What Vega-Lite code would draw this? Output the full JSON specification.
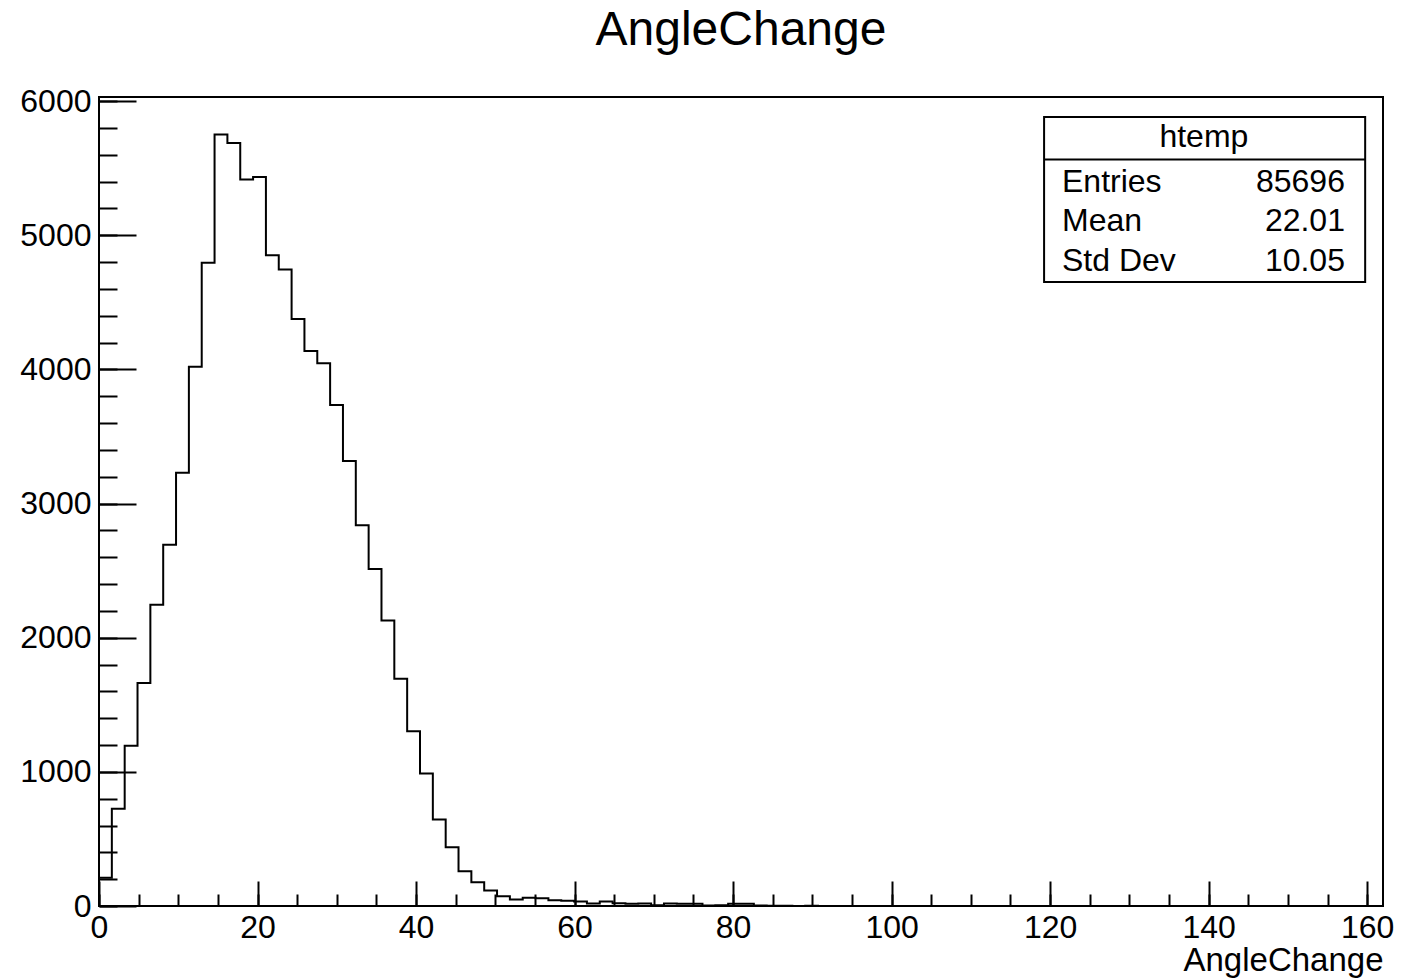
{
  "$schema": "https://vega.github.io/schema/vega-lite/v6.json",
  "width": 1284,
  "height": 809,
  "autosize": {"type": "none"},
  "padding": {"left": 99, "top": 97, "right": 18, "bottom": 74},
  "background": "white",
  "config": {"view": {"stroke": "black", "strokeWidth": 2}, "font": "Liberation Sans"},
  "title": {"text": "AngleChange", "fontSize": 48, "fontWeight": "normal", "font": "Liberation Sans", "anchor": "middle", "offset": 30, "color": "black"},
  "datasets": {
    "hist": [
      {"edge": 0, "count": 210}, {"edge": 1.62, "count": 724}, {"edge": 3.24, "count": 1195}, {"edge": 4.86, "count": 1662},
      {"edge": 6.48, "count": 2245}, {"edge": 8.1, "count": 2692}, {"edge": 9.72, "count": 3230}, {"edge": 11.34, "count": 4020},
      {"edge": 12.96, "count": 4794}, {"edge": 14.58, "count": 5750}, {"edge": 16.2, "count": 5688}, {"edge": 17.82, "count": 5415},
      {"edge": 19.44, "count": 5434}, {"edge": 21.06, "count": 4851}, {"edge": 22.68, "count": 4745}, {"edge": 24.3, "count": 4375},
      {"edge": 25.92, "count": 4136}, {"edge": 27.54, "count": 4045}, {"edge": 29.16, "count": 3734}, {"edge": 30.78, "count": 3317},
      {"edge": 32.4, "count": 2838}, {"edge": 34.02, "count": 2511}, {"edge": 35.64, "count": 2128}, {"edge": 37.26, "count": 1694},
      {"edge": 38.88, "count": 1302}, {"edge": 40.5, "count": 987}, {"edge": 42.12, "count": 644}, {"edge": 43.74, "count": 438},
      {"edge": 45.36, "count": 259}, {"edge": 46.98, "count": 177}, {"edge": 48.6, "count": 115}, {"edge": 50.22, "count": 73},
      {"edge": 51.84, "count": 48}, {"edge": 53.46, "count": 62}, {"edge": 55.08, "count": 58}, {"edge": 56.7, "count": 42},
      {"edge": 58.32, "count": 40}, {"edge": 59.94, "count": 33}, {"edge": 61.56, "count": 18}, {"edge": 63.18, "count": 33},
      {"edge": 64.8, "count": 20}, {"edge": 66.42, "count": 17}, {"edge": 68.04, "count": 18}, {"edge": 69.66, "count": 5},
      {"edge": 71.28, "count": 18}, {"edge": 72.9, "count": 16}, {"edge": 74.52, "count": 17}, {"edge": 76.14, "count": 4},
      {"edge": 77.76, "count": 6}, {"edge": 79.38, "count": 17}, {"edge": 81.0, "count": 16}, {"edge": 82.62, "count": 3},
      {"edge": 84.24, "count": 2}, {"edge": 85.86, "count": 1}, {"edge": 87.48, "count": 0}, {"edge": 89.1, "count": 1},
      {"edge": 90.72, "count": 0}, {"edge": 162, "count": 0}
    ],
    "box": [{"name": "htemp"}],
    "stats": [
      {"stat": "Entries", "value": "85696"},
      {"stat": "Mean", "value": "22.01"},
      {"stat": "Std Dev", "value": "10.05"}
    ]
  },
  "layer": [
    {
      "data": {"name": "hist"},
      "mark": {"type": "line", "interpolate": "step-after", "color": "black", "strokeWidth": 2, "clip": true},
      "encoding": {
        "x": {"field": "edge", "type": "quantitative", "scale": {"domain": [0, 162], "nice": false, "zero": false},
          "axis": {"orient": "bottom", "values": [0, 20, 40, 60, 80, 100, 120, 140, 160], "format": "d", "ticks": false, "domain": false, "grid": false,
            "labelFontSize": 32, "labelFont": "Liberation Sans", "labelColor": "black", "labelPadding": 6, "labelFlush": false, "labelOverlap": false,
            "title": "AngleChange", "titleFont": "Liberation Sans", "titleFontSize": 33, "titleFontWeight": "normal", "titleAnchor": "end", "titleAlign": "right", "titlePadding": 1, "titleColor": "black"}},
        "y": {"field": "count", "type": "quantitative", "scale": {"domain": [0, 6030], "nice": false, "zero": true},
          "axis": {"orient": "left", "values": [0, 1000, 2000, 3000, 4000, 5000, 6000], "format": "d", "ticks": false, "domain": false, "grid": false,
            "labelFontSize": 32, "labelFont": "Liberation Sans", "labelColor": "black", "labelPadding": 8, "labelFlush": false, "labelOverlap": false, "title": null}}
      }
    },
    {
      "data": {"name": "hist"},
      "mark": {"type": "line", "opacity": 0},
      "encoding": {
        "x": {"field": "edge", "type": "quantitative", "scale": {"domain": [0, 162], "nice": false, "zero": false},
          "axis": {"orient": "bottom", "values": [0, 20, 40, 60, 80, 100, 120, 140, 160], "labels": false, "domain": false, "grid": false,
            "ticks": true, "tickSize": -25, "tickWidth": 2, "tickColor": "black", "title": null}},
        "y": {"field": "count", "type": "quantitative", "scale": {"domain": [0, 6030], "nice": false, "zero": true},
          "axis": {"orient": "left", "values": [0, 1000, 2000, 3000, 4000, 5000, 6000], "labels": false, "domain": false, "grid": false,
            "ticks": true, "tickSize": -37, "tickWidth": 2, "tickColor": "black", "title": null}}
      }
    },
    {
      "data": {"name": "hist"},
      "mark": {"type": "line", "opacity": 0},
      "encoding": {
        "x": {"field": "edge", "type": "quantitative", "scale": {"domain": [0, 162], "nice": false, "zero": false},
          "axis": {"orient": "bottom", "values": [0, 5, 10, 15, 20, 25, 30, 35, 40, 45, 50, 55, 60, 65, 70, 75, 80, 85, 90, 95, 100, 105, 110, 115, 120, 125, 130, 135, 140, 145, 150, 155, 160],
            "labels": false, "domain": false, "grid": false, "ticks": true, "tickSize": -12, "tickWidth": 2, "tickColor": "black", "title": null}},
        "y": {"field": "count", "type": "quantitative", "scale": {"domain": [0, 6030], "nice": false, "zero": true},
          "axis": {"orient": "left", "values": [0, 200, 400, 600, 800, 1000, 1200, 1400, 1600, 1800, 2000, 2200, 2400, 2600, 2800, 3000, 3200, 3400, 3600, 3800, 4000, 4200, 4400, 4600, 4800, 5000, 5200, 5400, 5600, 5800, 6000],
            "labels": false, "domain": false, "grid": false, "ticks": true, "tickSize": -18, "tickWidth": 2, "tickColor": "black", "title": null}}
      }
    },
    {
      "data": {"name": "box"},
      "mark": {"type": "rect", "fill": "white", "stroke": "black", "strokeWidth": 2},
      "encoding": {
        "x": {"datum": 119.24, "type": "quantitative", "axis": null},
        "x2": {"datum": 159.75},
        "y": {"datum": 5881, "type": "quantitative", "scale": {"domain": [0, 6030], "nice": false, "zero": true}, "axis": null},
        "y2": {"datum": 4652}
      }
    },
    {
      "data": {"name": "box"},
      "mark": {"type": "rule", "color": "black", "strokeWidth": 2},
      "encoding": {
        "x": {"datum": 119.24, "type": "quantitative", "axis": null},
        "x2": {"datum": 159.75},
        "y": {"datum": 5564, "type": "quantitative", "scale": {"domain": [0, 6030], "nice": false, "zero": true}, "axis": null}
      }
    },
    {
      "data": {"name": "box"},
      "mark": {"type": "text", "align": "center", "baseline": "alphabetic", "fontSize": 32, "font": "Liberation Sans", "color": "black"},
      "encoding": {
        "x": {"datum": 139.4, "type": "quantitative", "axis": null},
        "y": {"datum": 5658, "type": "quantitative", "scale": {"domain": [0, 6030], "nice": false, "zero": true}, "axis": null},
        "text": {"field": "name"}
      }
    },
    {
      "data": {"name": "stats"},
      "mark": {"type": "text", "align": "left", "baseline": "alphabetic", "fontSize": 32, "font": "Liberation Sans", "color": "black"},
      "encoding": {
        "x": {"datum": 121.5, "type": "quantitative", "axis": null},
        "y": {"field": "stat", "type": "nominal", "scale": {"type": "point", "domain": ["Entries", "Mean", "Std Dev"], "range": [94.7, 173.7], "padding": 0}, "axis": null},
        "text": {"field": "stat"}
      }
    },
    {
      "data": {"name": "stats"},
      "mark": {"type": "text", "align": "right", "baseline": "alphabetic", "fontSize": 32, "font": "Liberation Sans", "color": "black"},
      "encoding": {
        "x": {"datum": 157.2, "type": "quantitative", "axis": null},
        "y": {"field": "stat", "type": "nominal", "scale": {"type": "point", "domain": ["Entries", "Mean", "Std Dev"], "range": [94.7, 173.7], "padding": 0}, "axis": null},
        "text": {"field": "value"}
      }
    }
  ],
  "resolve": {"scale": {"y": "independent"}, "axis": {"x": "independent", "y": "independent"}}
}
